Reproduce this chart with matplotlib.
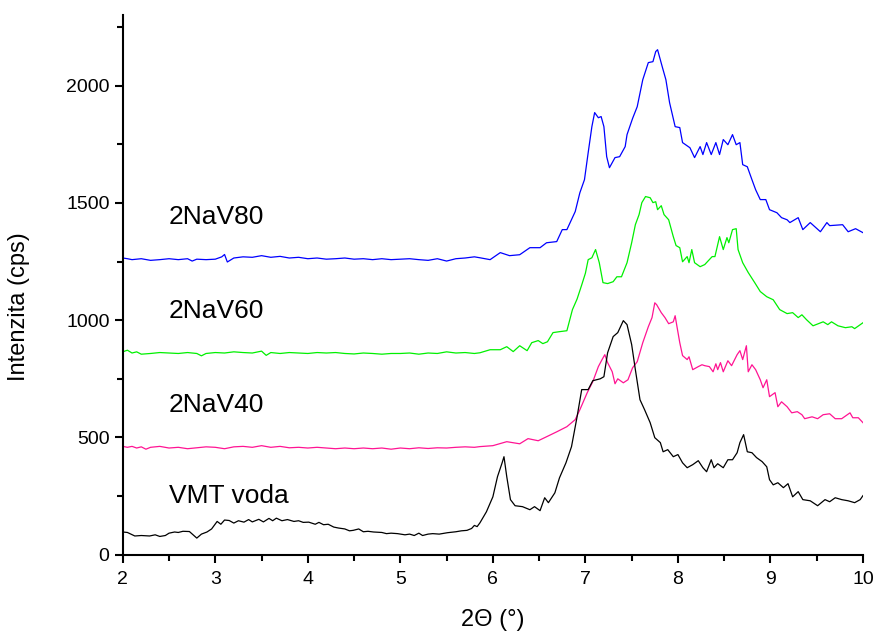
import matplotlib.pyplot as plt
from matplotlib.ticker import MultipleLocator

# 2NaV80 (blue)
x_80 = [2.0, 2.05, 2.1, 2.2, 2.3, 2.4, 2.5, 2.6, 2.7, 2.75, 2.8, 2.9, 3.0, 3.07, 3.1, 3.13, 3.2, 3.3, 3.4, 3.5,
        3.6, 3.7, 3.8, 3.9, 4.0, 4.1, 4.2, 4.3, 4.4, 4.5, 4.6, 4.7, 4.8, 4.9, 5.0, 5.1, 5.2, 5.3, 5.4, 5.5,
        5.6, 5.7, 5.8, 5.86, 5.97, 6.08, 6.18, 6.29, 6.40, 6.51, 6.58, 6.69, 6.75, 6.80, 6.89, 6.94, 6.99,
        7.03, 7.07, 7.10, 7.14, 7.17, 7.20, 7.23, 7.26, 7.32, 7.37, 7.43, 7.45, 7.51, 7.56, 7.62, 7.68, 7.73,
        7.76, 7.78, 7.83, 7.87, 7.91, 7.97, 8.02, 8.05, 8.13, 8.18, 8.24, 8.27, 8.31, 8.36, 8.41, 8.45, 8.49,
        8.54, 8.59, 8.63, 8.67, 8.70, 8.75, 8.80, 8.84, 8.89, 8.95, 8.99, 9.07, 9.12, 9.18, 9.21, 9.30, 9.35,
        9.43, 9.54, 9.61, 9.64, 9.78, 9.84, 9.92, 10.0]
y_80 = [1265, 1262, 1258, 1262, 1255, 1258, 1262, 1258, 1262, 1252, 1260, 1258, 1260, 1270, 1280, 1248, 1265,
        1270, 1268, 1275, 1268, 1272, 1265, 1268, 1262, 1265, 1260, 1262, 1265, 1260, 1262, 1258, 1262, 1258,
        1260, 1262, 1258, 1255, 1262, 1252, 1262, 1265, 1270, 1266, 1258, 1288, 1275, 1279, 1309, 1309, 1330,
        1335, 1386, 1386, 1463, 1543, 1599, 1714, 1825, 1885, 1863, 1868, 1825, 1697, 1650, 1693, 1697, 1740,
        1791, 1860, 1910, 2025, 2098, 2102, 2145, 2153, 2081, 2025, 1927, 1825, 1821, 1757, 1735, 1693, 1740,
        1706, 1757, 1706, 1757, 1706, 1770, 1748, 1791, 1748, 1757, 1663, 1654, 1599, 1556, 1514, 1514, 1471,
        1458, 1437, 1428, 1416, 1437, 1386, 1416, 1377, 1416, 1403, 1407, 1377, 1390, 1373]

# 2NaV60 (green)
x_60 = [2.0, 2.05, 2.1, 2.15, 2.2, 2.3, 2.4, 2.5, 2.6, 2.7, 2.8, 2.85, 2.9, 3.0, 3.1, 3.2, 3.3, 3.4, 3.5, 3.55,
        3.6, 3.7, 3.8, 3.9, 4.0, 4.1, 4.2, 4.3, 4.4, 4.5, 4.6, 4.7, 4.8, 4.9, 5.0, 5.1, 5.2, 5.3, 5.4, 5.5,
        5.6, 5.7, 5.8, 5.86, 5.97, 6.08, 6.15, 6.22, 6.29, 6.37, 6.42, 6.49, 6.54, 6.59, 6.65, 6.72, 6.80,
        6.86, 6.91, 6.96, 7.0, 7.03, 7.07, 7.11, 7.15, 7.19, 7.24, 7.30, 7.34, 7.39, 7.45, 7.50, 7.54, 7.58,
        7.61, 7.65, 7.70, 7.73, 7.76, 7.78, 7.82, 7.85, 7.90, 7.95, 7.98, 8.02, 8.05, 8.10, 8.12, 8.15, 8.18,
        8.24, 8.29, 8.37, 8.40, 8.45, 8.49, 8.53, 8.55, 8.59, 8.63, 8.65, 8.70, 8.76, 8.83, 8.89, 8.96, 9.03,
        9.10, 9.18, 9.24, 9.30, 9.34, 9.39, 9.46, 9.57, 9.62, 9.66, 9.73, 9.81, 9.88, 9.91, 10.0]
y_60 = [865, 872, 860, 865, 855, 858, 862, 860, 858, 862, 858, 848, 858, 862, 860, 865, 862, 860, 868, 850,
        862, 858, 862, 860, 858, 862, 860, 862, 858, 856, 860, 858, 855, 858, 858, 860, 855, 860, 858, 865,
        860, 862, 858, 861, 874, 874, 887, 866, 891, 870, 904, 913, 900, 908, 947, 951, 955, 1045, 1090, 1150,
        1200, 1258, 1266, 1301, 1245, 1160, 1156, 1164, 1185, 1185, 1245, 1330, 1407, 1450, 1501, 1527, 1522,
        1501, 1505, 1471, 1488, 1450, 1428, 1356, 1318, 1309, 1249, 1271, 1245, 1301, 1245, 1228, 1237, 1271,
        1271, 1356, 1301, 1352, 1330, 1386, 1390, 1301, 1245, 1203, 1160, 1122, 1100, 1087, 1045, 1028, 1032,
        1011, 1023, 1002, 976, 993, 981, 993, 976, 968, 972, 964, 989]

# 2NaV40 (pink)
x_40 = [2.0, 2.05, 2.1, 2.15, 2.2, 2.25, 2.3, 2.4, 2.5, 2.6, 2.7, 2.8, 2.9, 3.0, 3.1, 3.2, 3.3, 3.4, 3.5, 3.6,
        3.7, 3.8, 3.9, 4.0, 4.1, 4.2, 4.3, 4.4, 4.5, 4.6, 4.7, 4.8, 4.9, 5.0, 5.1, 5.2, 5.3, 5.4, 5.5, 5.6,
        5.7, 5.8, 5.86, 6.0, 6.15, 6.29, 6.38, 6.49, 6.58, 6.69, 6.80, 6.89, 6.94, 7.02, 7.08, 7.14, 7.18,
        7.21, 7.24, 7.29, 7.32, 7.35, 7.41, 7.46, 7.51, 7.56, 7.62, 7.68, 7.72, 7.75, 7.77, 7.82, 7.86, 7.90,
        7.95, 7.97, 7.99, 8.02, 8.05, 8.10, 8.12, 8.16, 8.22, 8.26, 8.29, 8.34, 8.38, 8.41, 8.43, 8.46, 8.49,
        8.54, 8.58, 8.64, 8.67, 8.70, 8.74, 8.76, 8.80, 8.84, 8.89, 8.92, 8.96, 8.99, 9.05, 9.08, 9.12, 9.18,
        9.23, 9.29, 9.34, 9.37, 9.45, 9.51, 9.57, 9.64, 9.70, 9.77, 9.86, 9.89, 9.95, 10.0]
y_40 = [462, 458, 462, 455, 460, 450, 458, 462, 455, 458, 452, 456, 460, 458, 452, 460, 462, 458, 465, 458,
        462, 456, 458, 455, 458, 455, 452, 455, 452, 455, 452, 455, 450, 455, 452, 456, 453, 456, 455, 458,
        460, 458, 461, 465, 482, 473, 495, 486, 503, 524, 546, 576, 618, 691, 738, 802, 832, 853, 819, 780,
        729, 750, 733, 746, 797, 823, 904, 972, 1011, 1074, 1066, 1032, 1011, 985, 993, 1019, 972, 904, 849,
        832, 844, 789, 802, 810, 806, 802, 780, 814, 789, 819, 780, 827, 806, 853, 870, 832, 891, 780, 810,
        789, 746, 712, 746, 674, 691, 631, 652, 631, 605, 610, 597, 580, 588, 580, 597, 601, 580, 580, 605,
        584, 584, 563]

# VMT voda (black)
x_vmt = [2.0, 2.05, 2.13, 2.2, 2.29, 2.35, 2.4, 2.46, 2.5, 2.56, 2.6, 2.65, 2.72, 2.76, 2.8, 2.85, 2.91, 2.96,
         3.02, 3.06, 3.1, 3.15, 3.2, 3.25, 3.31, 3.36, 3.4, 3.47, 3.52, 3.58, 3.62, 3.66, 3.72, 3.78, 3.85,
         3.9, 3.95, 4.01, 4.08, 4.12, 4.17, 4.22, 4.28, 4.33, 4.4, 4.45, 4.49, 4.55, 4.6, 4.65, 4.71, 4.8,
         4.85, 4.9, 4.97, 5.05, 5.1, 5.15, 5.2, 5.24, 5.3, 5.35, 5.42, 5.51, 5.6, 5.66, 5.72, 5.77, 5.8, 5.83,
         5.86, 5.93, 6.0, 6.05, 6.10, 6.12, 6.15, 6.19, 6.24, 6.32, 6.40, 6.45, 6.51, 6.56, 6.60, 6.67, 6.72,
         6.79, 6.85, 6.91, 6.96, 7.03, 7.08, 7.16, 7.20, 7.24, 7.30, 7.35, 7.41, 7.45, 7.50, 7.54, 7.59, 7.64,
         7.70, 7.75, 7.81, 7.84, 7.89, 7.95, 8.0, 8.05, 8.10, 8.16, 8.22, 8.27, 8.31, 8.36, 8.39, 8.43, 8.49,
         8.54, 8.59, 8.64, 8.67, 8.71, 8.75, 8.80, 8.85, 8.91, 8.96, 8.99, 9.03, 9.08, 9.14, 9.19, 9.24, 9.30,
         9.35, 9.43, 9.51, 9.59, 9.64, 9.70, 9.77, 9.84, 9.91, 9.97, 10.0]
y_vmt = [97, 95, 80, 82, 80, 85, 78, 82, 92, 97, 95, 100, 99, 85, 71, 88, 97, 110, 142, 130, 148, 146, 135,
         145, 139, 150, 140, 151, 140, 155, 145, 156, 145, 150, 142, 145, 138, 139, 130, 138, 128, 130, 118,
         114, 110, 102, 104, 110, 98, 100, 97, 95, 90, 92, 90, 85, 88, 82, 92, 82, 88, 90, 88, 94, 98, 102,
         104, 112, 125, 120, 136, 183, 247, 333, 392, 418, 333, 235, 209, 205, 192, 205, 188, 243, 222, 264,
         328, 392, 461, 588, 704, 704, 742, 750, 759, 861, 930, 947, 998, 981, 896, 789, 661, 618, 563, 499,
         478, 439, 448, 418, 427, 392, 371, 384, 401, 371, 354, 405, 371, 388, 371, 405, 405, 435, 478, 512,
         439, 435, 414, 397, 375, 320, 298, 307, 286, 303, 247, 269, 235, 230, 209, 235, 226, 243, 235, 230,
         222, 235, 252]

labels = ["2NaV80", "2NaV60", "2NaV40", "VMT voda"]
label_y = [1440, 1040, 640, 250]

plt.rcParams['font.family'] = ['Liberation Sans', 'DejaVu Sans']

fig = plt.figure(figsize=(8.77, 6.34), dpi=100)
ax = fig.add_axes([0.140, 0.125, 0.844, 0.851])

ax.plot(x_80, y_80, color='#0000ff', lw=0.9)
ax.plot(x_60, y_60, color='#00f000', lw=0.9)
ax.plot(x_40, y_40, color='#ff1493', lw=0.9)
ax.plot(x_vmt, y_vmt, color='black', lw=0.9)

# sample names on the left, above each curve
for name, yy in zip(labels, label_y):
    ax.text(2.5, yy, name, fontsize=19, va='center', ha='left')

ax.set_xlim(2, 10)
ax.set_ylim(0, 2300)
ax.xaxis.set_major_locator(MultipleLocator(1))
ax.xaxis.set_minor_locator(MultipleLocator(0.5))
ax.yaxis.set_major_locator(MultipleLocator(500))
ax.yaxis.set_minor_locator(MultipleLocator(250))
ax.spines['top'].set_visible(False)
ax.spines['right'].set_visible(False)
ax.spines['left'].set_linewidth(1.5)
ax.spines['bottom'].set_linewidth(1.5)
ax.tick_params(which='major', direction='out', length=6, width=1.5, labelsize=14)
ax.tick_params(which='minor', direction='out', length=4, width=1.5)
ax.tick_params(axis='x', which='major', pad=6)
ax.set_xlabel("2Θ (°)", fontsize=17)
ax.set_ylabel("Intenzita (cps)", fontsize=17)
ax.xaxis.set_label_coords(0.5, -0.10)
ax.yaxis.set_label_coords(-0.125, 0.46)

fig.savefig("out.png", dpi=100)
